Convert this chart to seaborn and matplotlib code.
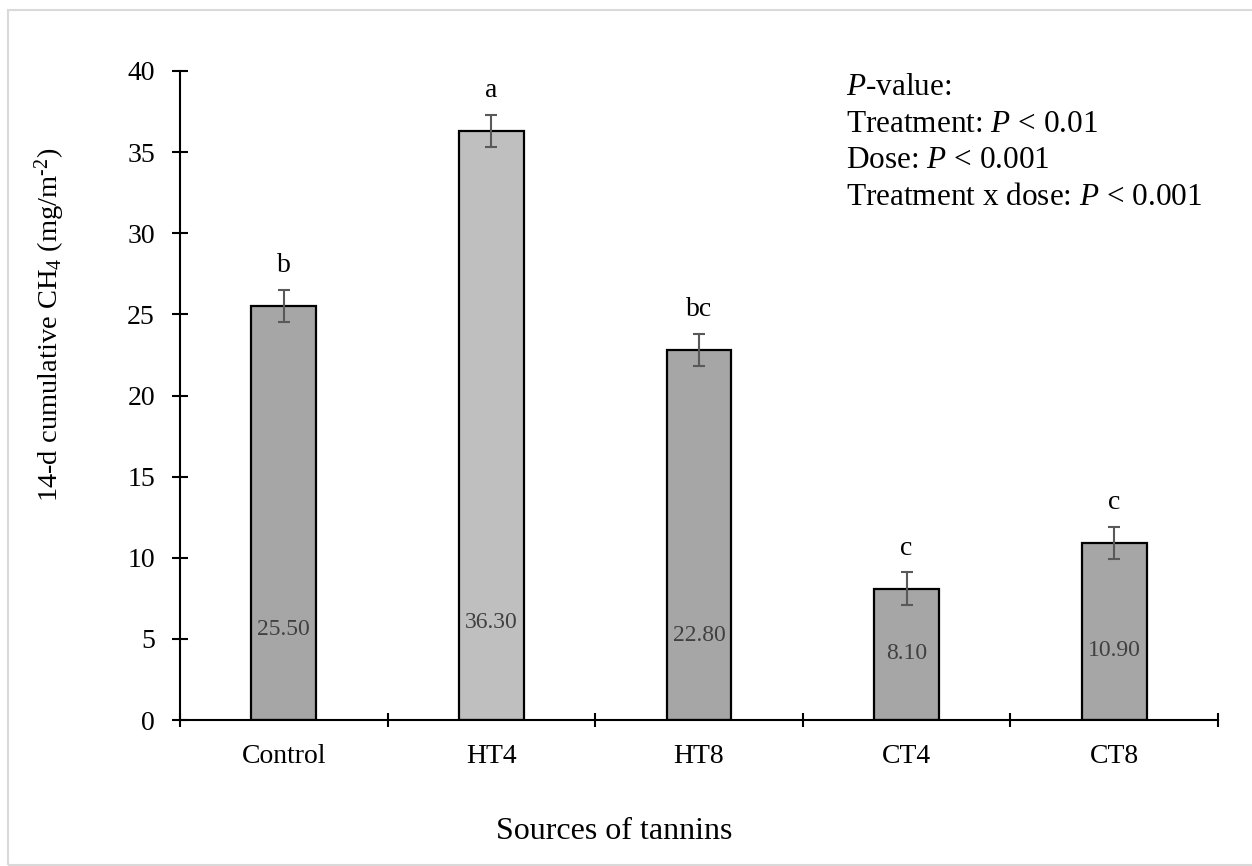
import matplotlib
matplotlib.use("Agg")
import matplotlib.pyplot as plt
from matplotlib.patches import Rectangle
from matplotlib.ticker import FixedLocator, NullFormatter
import seaborn as sns

# Data
categories = ["Control", "HT4", "HT8", "CT4", "CT8"]
means = [25.50, 36.30, 22.80, 8.10, 10.90]
errors = [1.0, 1.0, 1.0, 1.0, 1.0]
letters = ["b", "a", "bc", "c", "c"]
y_ticks = [0, 5, 10, 15, 20, 25, 30, 35, 40]

sns.set_style("white")
plt.rcParams["font.family"] = ["Liberation Serif", "DejaVu Serif"]
plt.rcParams["mathtext.fontset"] = "custom"
plt.rcParams["mathtext.rm"] = "Liberation Serif"
plt.rcParams["mathtext.it"] = "Liberation Serif:italic"
plt.rcParams["mathtext.bf"] = "Liberation Serif:bold"

W, H = 1252, 866
fig = plt.figure(figsize=(W / 100, H / 100), dpi=100)
fig.patch.set_facecolor("white")

# Light frame around the chart area
fig.patches.append(Rectangle((8 / W, 1 - 865 / H), (W - 7) / W, (865 - 10) / H,
                             transform=fig.transFigure, fill=False,
                             edgecolor="#d9d9d9", linewidth=1.5))

ax = fig.add_axes([180 / W, (H - 720) / H, 1038 / W, 649 / H])

bar_colors = ["#a6a6a6", "#bfbfbf", "#a6a6a6", "#a6a6a6", "#a6a6a6"]
sns.barplot(x=categories, y=means, hue=categories, palette=bar_colors,
            legend=False, width=0.313, edgecolor="black", linewidth=1.6,
            saturation=1, errorbar=None, ax=ax)

xpos = list(range(len(categories)))
ax.errorbar(xpos, means, yerr=errors, fmt="none", ecolor="#595959",
            elinewidth=1.5, capsize=4.5, capthick=1.5, zorder=5)

# Significance letters above error bars
for x, m, e, lab in zip(xpos, means, errors, letters):
    ax.text(x, m + e + 1.1, lab, ha="center", va="baseline",
            fontsize=20, color="black")

# Value labels inside bars
label_y = [5.6, 6.0, 5.2, 4.1, 4.3]
for x, m, ly in zip(xpos, means, label_y):
    ax.text(x, ly, f"{m:.2f}", ha="center", va="center",
            fontsize=17, color="#404040", zorder=6)

ax.set_xlim(-0.5, 4.5)
ax.set_ylim(0, 40)
ax.set_yticks(y_ticks)
ax.set_yticklabels([str(t) for t in y_ticks])

# Category labels at bar centres, tick marks at category boundaries
ax.set_xticks(xpos)
ax.set_xticklabels(categories)
ax.xaxis.set_minor_locator(FixedLocator([i - 0.5 for i in range(len(categories) + 1)]))
ax.xaxis.set_minor_formatter(NullFormatter())
ax.tick_params(axis="x", which="major", length=0, pad=17, labelsize=20,
               labelcolor="black")
ax.tick_params(axis="x", which="minor", direction="inout", length=9.5,
               width=1.5, color="black", bottom=True)
ax.tick_params(axis="y", which="major", direction="inout", length=12,
               width=1.5, color="black", pad=12, labelsize=20,
               labelcolor="black", left=True)

for side in ["top", "right"]:
    ax.spines[side].set_visible(False)
for side in ["left", "bottom"]:
    ax.spines[side].set_color("black")
    ax.spines[side].set_linewidth(1.5)

ax.set_xlabel("Sources of tannins", fontsize=23, color="black")
ax.xaxis.label.set_va("baseline")
ax.xaxis.set_label_coords(0.418, (720 - 839) / 649)

ax.set_ylabel("14-d cumulative CH$_4$ (mg/m$^{\\text{-2}}$)", fontsize=20.5,
              color="black")
ax.yaxis.label.set_va("center")
ax.yaxis.set_label_coords((50 - 180) / 1038, (720 - 325) / 649)

# Statistical summary
stats_lines = [
    "$P$-value:",
    "Treatment: $P$ < 0.01",
    "Dose: $P$ < 0.001",
    "Treatment x dose: $P$ < 0.001",
]
for i, line in enumerate(stats_lines):
    ax.text((846 - 180) / 1038, (720 - 95 - 36.7 * i) / 649, line,
            transform=ax.transAxes, ha="left", va="baseline",
            fontsize=22.5, color="black")

fig.savefig("out.png", dpi=100, facecolor="white")
